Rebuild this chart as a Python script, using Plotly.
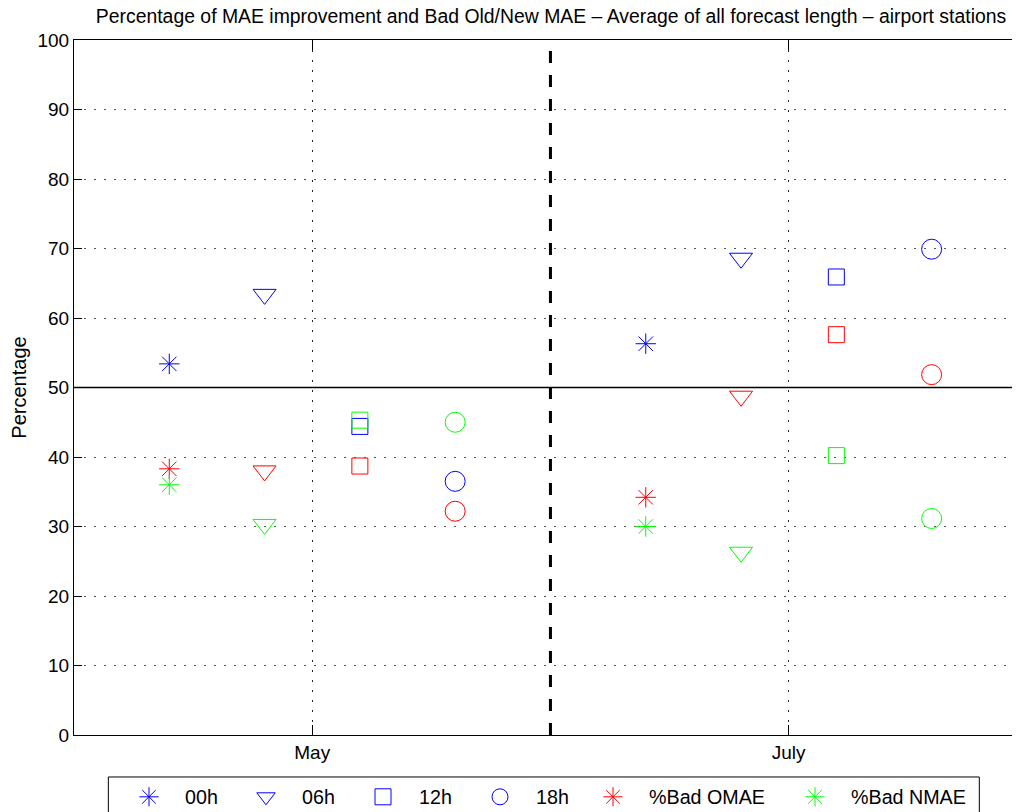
import plotly.graph_objects as go

# x positions: May group around 1, July group around 3
hours = ["00h", "06h", "12h", "18h"]
x_pos = {"00h": [0.4, 2.4], "06h": [0.8, 2.8], "12h": [1.2, 3.2], "18h": [1.6, 3.6]}
month_labels = ["May", "July"]
month_ticks = [1, 3]

# values per hour -> [May, July]
mae_improvement = {"00h": [53.4, 56.3], "06h": [63.4, 68.6], "12h": [44.4, 65.9], "18h": [36.5, 69.9]}
bad_omae = {"00h": [38.3, 34.2], "06h": [38.0, 48.75], "12h": [38.7, 57.6], "18h": [32.2, 51.85]}
bad_nmae = {"00h": [36.0, 30.0], "06h": [30.3, 26.3], "12h": [45.3, 40.2], "18h": [45.0, 31.15]}

symbols = {"00h": "asterisk-open", "06h": "triangle-down-open", "12h": "square-open", "18h": "circle-open"}
sizes = {"00h": 17, "06h": 20, "12h": 16, "18h": 20}
FONT = "Liberation Sans, Arial, sans-serif"

# page body has an 8px margin, so the figure is 8px smaller each way
W, H = 1012, 804

fig = go.Figure()
for h in hours:
    fig.add_trace(go.Scatter(x=x_pos[h], y=mae_improvement[h], mode="markers", name=h, legend="legend",
                             marker=dict(symbol=symbols[h], size=sizes[h], color="#0000ff", line=dict(width=1, color="#0000ff"))))
for name, vals, col in [("%Bad OMAE", bad_omae, "#ff0000"), ("%Bad NMAE", bad_nmae, "#00ff00")]:
    for h in hours:
        fig.add_trace(go.Scatter(x=x_pos[h], y=vals[h], mode="markers", name=name, legend="legend2",
                                 showlegend=(h == "00h"),
                                 marker=dict(symbol=symbols[h], size=sizes[h], color=col, line=dict(width=1, color=col))))

fig.add_hline(y=50, line_color="black", line_width=1.5)
fig.add_vline(x=2, line_color="black", line_width=3, line_dash="12px,12px")
# legend frame
fig.add_shape(type="rect", xref="paper", yref="paper", x0=0.0363, x1=0.957, y0=-0.2, y1=-0.0604,
              line=dict(color="black", width=1), fillcolor="rgba(0,0,0,0)")

legend_common = dict(orientation="h", xref="container", yref="container", yanchor="middle",
                     font=dict(family=FONT, size=19.7, color="black"), itemwidth=62,
                     bgcolor="rgba(0,0,0,0)", borderwidth=0, tracegroupgap=0)
fig.update_layout(
    width=W, height=H,
    margin=dict(l=66, r=0, t=32, b=77, autoexpand=False),
    plot_bgcolor="white", paper_bgcolor="white",
    font=dict(family=FONT, size=19, color="black"),
    title=dict(text="Percentage of MAE improvement and Bad Old/New MAE \u2013 Average of all forecast length \u2013 airport stations",
               x=543 / W, xanchor="center", y=1 - 8 / H, yanchor="middle", xref="container",
               font=dict(family=FONT, size=19.4, color="black")),
    legend=dict(x=105 / W, y=15 / H, entrywidth=40, **legend_common),
    legend2=dict(x=569 / W, y=15 / H, entrywidth=125, **legend_common),
    xaxis=dict(range=[0, 3.971], tickvals=month_ticks, ticktext=month_labels, showgrid=True,
               gridcolor="#222", griddash="2px,8px", gridwidth=1, ticks="inside", ticklen=10,
               tickcolor="black", showline=True, linecolor="black", linewidth=1, mirror="ticks",
               zeroline=False, ticklabelstandoff=0, automargin=False),
    yaxis=dict(range=[0, 100], tickvals=list(range(0, 101, 10)), showgrid=True,
               gridcolor="#555", griddash="2px,8px", gridwidth=1, ticks="inside", ticklen=8,
               tickcolor="black", showline=True, linecolor="black", linewidth=1, mirror=False,
               zeroline=False, ticklabelstandoff=0, automargin=False,
               title=dict(text="Percentage", standoff=14, font=dict(family=FONT, size=20))),
)

fig.write_html("out.html")
